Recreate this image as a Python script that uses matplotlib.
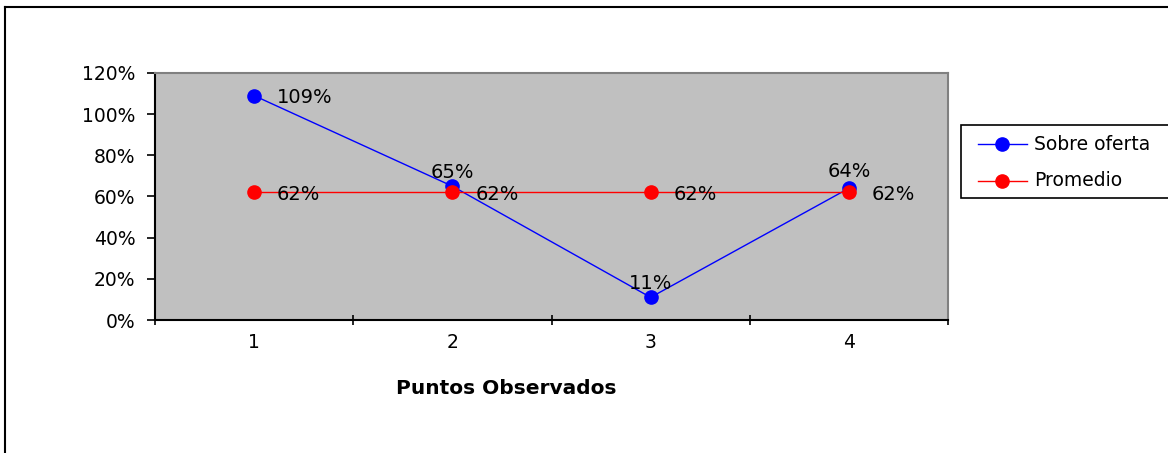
import matplotlib
matplotlib.use("Agg")
import matplotlib.pyplot as plt
from matplotlib.lines import Line2D
from matplotlib.patches import Rectangle
from matplotlib.ticker import FixedLocator, FuncFormatter

plt.rcParams['font.family'] = ['DejaVu Sans']

puntos = [1, 2, 3, 4]
sobre_oferta = [109, 65, 11, 64]
promedio = [62, 62, 62, 62]
y_ticks = [0, 20, 40, 60, 80, 100, 120]
series_names = ['Sobre oferta', 'Promedio']
series_colors = ['#0000FF', '#FF0000']

W, H = 1168, 453
fig = plt.figure(figsize=(W / 100, H / 100), dpi=100)
fig.patch.set_facecolor('white')


def fx(px):
    return px / W


def fy(py):
    return 1 - py / H


# outer chart frame (top and left edges visible)
fig.add_artist(Line2D([fx(5), 1.0], [fy(7), fy(7)], color='black', lw=1.5,
                      transform=fig.transFigure))
fig.add_artist(Line2D([fx(5), fx(5)], [0.0, fy(7)], color='black', lw=1.5,
                      transform=fig.transFigure))

ax = fig.add_axes([fx(155), fy(320), fx(948) - fx(155), fy(73) - fy(320)])
ax.set_facecolor('#C0C0C0')

lines = []
for vals, name, col, z in zip([sobre_oferta, promedio], series_names, series_colors, [3, 4]):
    ln, = ax.plot(puntos, vals, color=col, lw=1.0, marker='o', markersize=9.5,
                  markerfacecolor=col, markeredgecolor=col, zorder=z, label=name)
    lines.append(ln)

label_fs = 14
# value labels for the "Sobre oferta" series (pixel offsets from the point)
so_offsets = [(23, -2, 'left'), (0, 14, 'center'), (0, 14, 'center'), (0, 17, 'center')]
for x, v, (dx, dy, ha) in zip(puntos, sobre_oferta, so_offsets):
    ax.annotate(f"{v}%", (x, v), xytext=(dx, dy), textcoords='offset pixels',
                ha=ha, va='center', fontsize=label_fs, color='black', zorder=5)
# value labels for the average line
for x, v in zip(puntos, promedio):
    ax.annotate(f"{v}%", (x, v), xytext=(23, -2), textcoords='offset pixels',
                ha='left', va='center', fontsize=label_fs, color='black', zorder=5)

ax.set_xlim(0.5, 4.5)
ax.set_ylim(0, 120)
ax.yaxis.set_major_locator(FixedLocator(y_ticks))
ax.yaxis.set_major_formatter(FuncFormatter(lambda v, p: f"{int(v)}%"))
ax.xaxis.set_major_locator(FixedLocator([0.5, 1.5, 2.5, 3.5, 4.5]))
ax.xaxis.set_major_formatter(FuncFormatter(lambda v, p: ""))
ax.xaxis.set_minor_locator(FixedLocator(puntos))
ax.xaxis.set_minor_formatter(FuncFormatter(lambda v, p: f"{int(round(v))}"))

ax.tick_params(axis='y', direction='out', length=6, width=1.2, labelsize=13.5, pad=8)
ax.tick_params(axis='x', which='major', direction='inout', length=7.5, width=1.2)
ax.tick_params(axis='x', which='minor', length=0, labelsize=13.5, pad=9)

for side in ('left', 'bottom'):
    ax.spines[side].set_color('black')
    ax.spines[side].set_linewidth(1.5)
for side in ('top', 'right'):
    ax.spines[side].set_color('#808080')
    ax.spines[side].set_linewidth(1.5)

fig.text(fx(506), fy(388), 'Puntos Observados', ha='center', va='center',
         fontsize=14.5, fontweight='bold')

# legend box running off the right edge of the chart area
fig.add_artist(Rectangle((fx(961), fy(198)), fx(1180) - fx(961), fy(125) - fy(198),
                         transform=fig.transFigure, facecolor='white',
                         edgecolor='black', lw=1.2, clip_on=False))
for ln, row_y in zip(lines, [144, 181]):
    col = ln.get_color()
    fig.add_artist(Line2D([fx(978), fx(1027)], [fy(row_y), fy(row_y)], color=col,
                          lw=1.0, transform=fig.transFigure))
    fig.add_artist(Line2D([fx(1002)], [fy(row_y)], color=col, marker='o',
                          markersize=9.5, markerfacecolor=col, markeredgecolor=col,
                          lw=0, transform=fig.transFigure))
    fig.text(fx(1034), fy(row_y), ln.get_label(), ha='left', va='center',
             fontsize=13.5)

fig.savefig('out.png', dpi=100)
